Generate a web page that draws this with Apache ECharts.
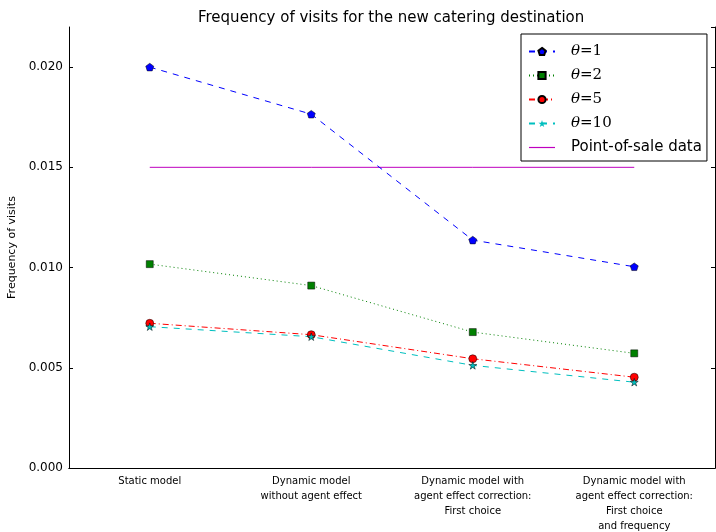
<!DOCTYPE html>
<html>
<head>
<meta charset="utf-8">
<script src="https://cdn.jsdelivr.net/npm/echarts@6/dist/echarts.min.js"></script>
<style>html,body{margin:0;padding:0;background:#fff;}#c{width:716px;height:532px;}</style>
</head>
<body>
<div id="c"></div>
<script>
const categories = ['Static model', 'Dynamic model\nwithout agent effect', 'Dynamic model with\nagent effect correction:\nFirst choice', 'Dynamic model with\nagent effect correction:\nFirst choice\nand frequency'];
const theta1 = [0.0200, 0.01765, 0.01137, 0.01004];
const theta2 = [0.01017, 0.00910, 0.00678, 0.00572];
const theta5 = [0.00722, 0.00665, 0.00545, 0.00453];
const theta10 = [0.00705, 0.00655, 0.00512, 0.00428];
const pointOfSale = [0.015, 0.015, 0.015, 0.015];
const yTicks = [0, 0.005, 0.010, 0.015, 0.020];

const pentagon = 'path://M0,-4 L3.804,-1.236 L2.352,3.236 L-2.352,3.236 L-3.804,-1.236 Z';
const star = 'path://M0,-4 L0.898,-1.236 L3.804,-1.236 L1.452,0.472 L2.352,3.236 L0,1.528 L-2.352,3.236 L-1.452,0.472 L-3.804,-1.236 L-0.898,-1.236 Z';

const chart = echarts.init(document.getElementById('c'), null, {renderer: 'canvas'});
const F = 'DejaVu Sans';
function mk(name, data, color, dash, symbol, size) {
  return {
    name: name, type: 'line', data: data,
    symbol: symbol, symbolSize: size, symbolKeepAspect: true,
    showAllSymbol: true,
    lineStyle: {color: color, width: 1, type: dash},
    itemStyle: {color: color, borderColor: '#000', borderWidth: 0.5},
    emphasis: {disabled: true},
    animation: false, z: 3
  };
}
const option = {
  backgroundColor: '#fff',
  animation: false,
  title: {
    text: 'Frequency of visits for the new catering destination',
    left: 193, top: 6,
    textStyle: {fontFamily: F, fontSize: 15, fontWeight: 'normal', color: '#000'}
  },
  grid: {left: 69, right: 1, top: 27, bottom: 64, containLabel: false, outerBoundsMode: 'none'},
  legend: {
    left: 521, top: 34, orient: 'vertical',
    itemWidth: 26, itemHeight: 9, itemGap: 9,
    padding: [10, 5, 6, 7],
    borderColor: '#000', borderWidth: 1,
    backgroundColor: '#fff',
    data: ['θ=1', 'θ=2', 'θ=5',
      {name: 'θ=10', itemStyle: {color: '#00bfbf', borderColor: '#005f5f', borderWidth: 0}},
      {name: 'Point-of-sale data', icon: 'path://M0,0 L26,0 L26,1.2 L0,1.2 Z'}],
    formatter: function (n) {
      if (n.charAt(0) === 'θ') return '{t|θ}{n|' + n.slice(1) + '}';
      return '{p|' + n + '}';
    },
    textStyle: {
      fontFamily: F, fontSize: 15, color: '#000', padding: [0, 0, 0, 11],
      rich: {
        t: {fontFamily: 'DejaVu Serif', fontStyle: 'italic', fontSize: 15, color: '#000'},
        n: {fontFamily: 'DejaVu Serif', fontSize: 15, color: '#000'},
        p: {fontFamily: F, fontSize: 15, color: '#000'}
      }
    }
  },
  xAxis: [{
    type: 'category', data: categories, boundaryGap: true, position: 'bottom',
    axisLine: {lineStyle: {color: '#000', width: 1}},
    axisTick: {inside: true, length: 4, alignWithLabel: true, lineStyle: {color: '#000'}},
    axisLabel: {interval: 0, margin: 6, fontFamily: F, fontSize: 10, lineHeight: 15, color: '#000', align: 'center'},
    splitLine: {show: false}
  }, {
    type: 'category', data: categories, boundaryGap: true, position: 'top',
    axisLine: {lineStyle: {color: '#000', width: 1}},
    axisTick: {inside: true, length: 4, alignWithLabel: true, lineStyle: {color: '#000'}},
    axisLabel: {show: false}, splitLine: {show: false}
  }],
  yAxis: [{
    type: 'value', min: 0, max: 0.022, interval: 0.005, position: 'left',
    name: 'Frequency of visits', nameLocation: 'middle', nameGap: 48, nameRotate: 90,
    nameTextStyle: {fontFamily: F, fontSize: 11, color: '#000'},
    axisLine: {show: true, lineStyle: {color: '#000', width: 1}},
    axisTick: {show: true, inside: true, length: 4, lineStyle: {color: '#000'}},
    axisLabel: {
      margin: 6, fontFamily: F, fontSize: 12, color: '#000', showMaxLabel: false,
      formatter: function (v) {
        for (const t of yTicks) if (Math.abs(t - v) < 1e-9) return t.toFixed(3);
        return '';
      }
    },
    splitLine: {show: false}
  }, {
    type: 'value', min: 0, max: 0.022, interval: 0.005, position: 'right',
    axisLine: {show: true, lineStyle: {color: '#000', width: 1}},
    axisTick: {show: true, inside: true, length: 4, lineStyle: {color: '#000'}},
    axisLabel: {show: false}, splitLine: {show: false}
  }],
  series: [
    mk('θ=1', theta1, '#0000ff', [6, 6], pentagon, 8),
    mk('θ=2', theta2, '#008000', [1, 3], 'rect', 7),
    mk('θ=5', theta5, '#ff0000', [6, 3, 1, 3], 'circle', 8),
    mk('θ=10', theta10, '#00bfbf', [6, 6], star, 8),
    {
      name: 'Point-of-sale data', type: 'line', data: pointOfSale,
      symbol: 'none', lineStyle: {color: '#bf00bf', width: 1, type: 'solid'},
      itemStyle: {color: '#bf00bf'}, emphasis: {disabled: true}, z: 2
    }
  ]
};
chart.setOption(option);
</script>
</body>
</html>
